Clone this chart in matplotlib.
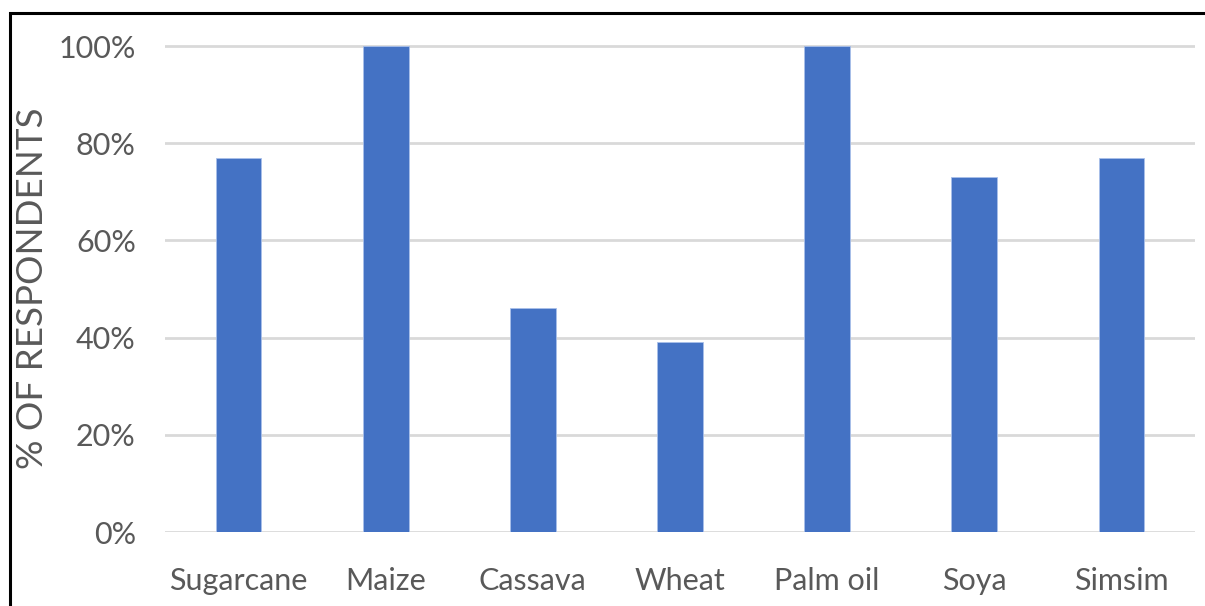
import matplotlib
matplotlib.use("Agg")
import matplotlib.pyplot as plt
from matplotlib.patches import Rectangle
from matplotlib.ticker import PercentFormatter

categories = ["Sugarcane", "Maize", "Cassava", "Wheat", "Palm oil", "Soya", "Simsim"]
values = [77, 100, 46, 39, 100, 73, 77]
yticks = [0, 20, 40, 60, 80, 100]

plt.rcParams['font.family'] = ['Lato', 'DejaVu Sans']
W, H = 1205, 606
fig = plt.figure(figsize=(W/100, H/100), dpi=100)
ymax = 102
ax_left, ax_right = 165/W, 1195/W
ax_bottom = (H-532)/H
ax_h = 486*ymax/100/H
ax = fig.add_axes([ax_left, ax_bottom, ax_right-ax_left, ax_h])

x = range(len(categories))
ax.bar(x, values, width=0.31, color="#4472C4", edgecolor="#A9C0EA", linewidth=0.6, zorder=3)
ax.set_xlim(-0.5, len(categories)-0.5)
ax.set_ylim(0, ymax)
ax.set_yticks(yticks)
ax.yaxis.set_major_formatter(PercentFormatter(decimals=0))
ax.set_xticks(list(x))
ax.set_xticklabels(categories)
ax.grid(axis='y', color='#D9D9D9', linewidth=2.0, zorder=0)
for s in ax.spines.values():
    s.set_visible(False)
ax.tick_params(axis='both', length=0, labelsize=22, colors='#595959')
ax.tick_params(axis='y', pad=21)
ax.tick_params(axis='x', pad=25)
ax.set_ylabel("% OF RESPONDENTS", fontsize=26.5, color='#595959', labelpad=0)
ax.yaxis.set_label_coords((49 - 165)/(1195-165), (532-288)/486*100/ymax)

# figure border (left and top visible)
fig.patches.append(Rectangle((10/W, -0.1), 1.2, (H-13)/H + 0.1, transform=fig.transFigure,
                             fill=False, edgecolor='black', linewidth=2.2))

fig.savefig("out.png", dpi=100)
